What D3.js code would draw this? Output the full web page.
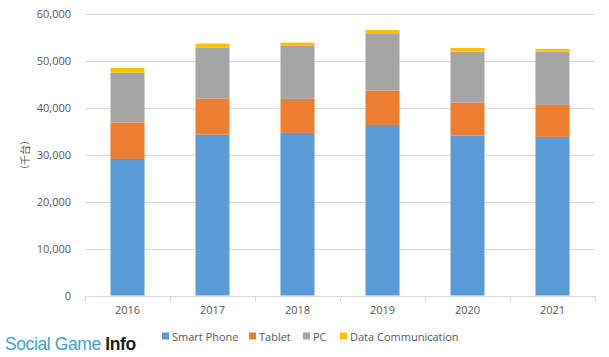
<!DOCTYPE html>
<html><head><meta charset="utf-8">
<script src="https://cdn.jsdelivr.net/npm/d3@7"></script>
<style>
html,body{margin:0;padding:0;background:#fff;}
svg{display:block;}
</style></head>
<body>
<svg id="chart" width="609" height="357"></svg>
<script>
const years = ["2016","2017","2018","2019","2020","2021"];
const smartPhone = [29100, 34300, 34650, 36350, 34070, 33800];
const tablet = [7750, 7670, 7250, 7320, 7040, 6820];
const pc = [10650, 10880, 11300, 12230, 10870, 11360];
const dataComm = [1000, 850, 700, 710, 790, 580];
const seriesNames = ["Smart Phone", "Tablet", "PC", "Data Communication"];
const seriesColors = ["#5b9bd5", "#ed7d31", "#a5a5a5", "#ffc000"];
const yTicks = [0, 10000, 20000, 30000, 40000, 50000, 60000];
const yLabel = "（千台）";

(function () {
const svg = d3.select("#chart");
const font = "'Open Sans', 'DejaVu Sans', sans-serif";
const pLeft = 85, pRight = 595, pTop = 14, pBottom = 295.5;

const x = d3.scaleBand().domain(years).range([pLeft, pRight]).paddingInner(0.6).paddingOuter(0.3);
const y = d3.scaleLinear().domain([0, 60000]).range([pBottom, pTop]);

// gridlines
svg.append("g").selectAll("line").data(yTicks.filter(d => d > 0)).join("line")
  .attr("x1", pLeft).attr("x2", pRight)
  .attr("y1", d => Math.round(y(d)) + 0.5).attr("y2", d => Math.round(y(d)) + 0.5)
  .attr("stroke", "#d9d9d9").attr("stroke-width", 1);

// stacked data
const rows = years.map((yr, i) => ({year: yr, "Smart Phone": smartPhone[i], "Tablet": tablet[i], "PC": pc[i], "Data Communication": dataComm[i]}));
const stack = d3.stack().keys(seriesNames)(rows);

svg.append("g").selectAll("g").data(stack).join("g")
  .attr("fill", (d, i) => seriesColors[i])
  .selectAll("rect").data(d => d).join("rect")
  .attr("x", d => x(d.data.year))
  .attr("width", x.bandwidth())
  .attr("y", d => y(d[1]))
  .attr("height", d => y(d[0]) - y(d[1]));

// x axis
const xAxis = svg.append("g").attr("transform", `translate(0,${Math.round(pBottom) + 0.5})`)
  .call(d3.axisBottom(x).tickSize(0).tickPadding(10));
xAxis.select(".domain").attr("stroke", "#d9d9d9").attr("d", `M${pLeft},0H${pRight}`);
xAxis.selectAll(".tick text").attr("fill", "#595959").style("font-family", font).style("font-size", "11px");
const seps = d3.range(years.length + 1).map(i => pLeft + i * x.step());
xAxis.selectAll(".sep").data(seps).join("line").attr("class", "sep")
  .attr("x1", d => Math.round(d) + 0.5).attr("x2", d => Math.round(d) + 0.5)
  .attr("y1", 0).attr("y2", 5).attr("stroke", "#d9d9d9");

// y axis
const yAxis = svg.append("g").attr("transform", `translate(${pLeft},0)`)
  .call(d3.axisLeft(y).tickValues(yTicks).tickSize(0).tickPadding(14).tickFormat(d3.format(",")));
yAxis.select(".domain").remove();
yAxis.selectAll(".tick text").attr("fill", "#595959").style("font-family", font).style("font-size", "11px");

// y label
svg.append("text").attr("transform", "translate(24,155) rotate(-90)")
  .attr("text-anchor", "middle").attr("dominant-baseline", "central")
  .attr("fill", "#595959").style("font-family", "'Noto Sans CJK JP', sans-serif").style("font-size", "10px")
  .text(yLabel);

// legend
const legendX = [162, 249, 303, 340];
const lg = svg.append("g").selectAll("g").data(seriesNames).join("g")
  .attr("transform", (d, i) => `translate(${legendX[i]},336)`);
lg.append("rect").attr("x", 0).attr("y", -3.5).attr("width", 7).attr("height", 7)
  .attr("fill", (d, i) => seriesColors[i]);
lg.append("text").attr("x", 10).attr("y", 0).attr("dominant-baseline", "central")
  .attr("fill", "#595959").style("font-family", font).style("font-size", "11px").text(d => d);

// watermark
const wm = svg.append("text").attr("x", 5).attr("y", 350)
  .style("font-family", "'Liberation Sans', Arial, sans-serif").style("font-size", "17.5px")
  .style("letter-spacing", "-0.4px");
wm.append("tspan").attr("fill", "#3fa3cc").style("font-weight", "normal").text("Social Game ");
wm.append("tspan").attr("fill", "#222").style("font-weight", "bold").text("Info");
})();
</script>
</body></html>
